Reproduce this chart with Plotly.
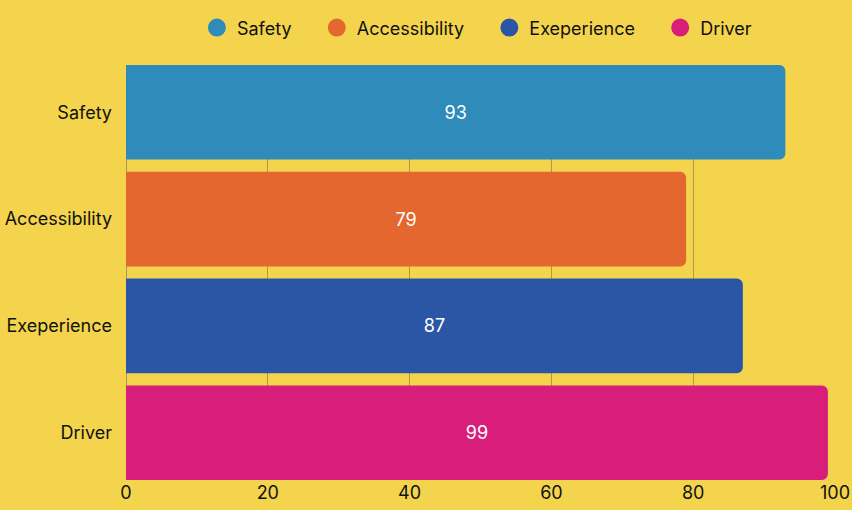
import plotly.graph_objects as go

categories = ["Safety", "Accessibility", "Exeperience", "Driver"]
values = [93, 79, 87, 99]
colors = ["#2E8BBA", "#E46730", "#2A56A5", "#D81E7A"]
x_ticks = [0, 20, 40, 60, 80, 100]

BG = "#F4D44C"
FONT = "Inter, Open Sans, sans-serif"
PAD = "\u00a0" * 4
GRID = "#A99B48"

fig = go.Figure()
fig.add_trace(go.Bar(
    y=categories, x=values, orientation="h",
    marker=dict(color=colors, line=dict(width=0)),
    text=[str(v) for v in values], textposition="inside",
    insidetextanchor="middle",
    textfont=dict(color="white", size=18, family=FONT),
    width=0.886, showlegend=False, hoverinfo="skip",
))
for c, col in zip(categories, colors):
    fig.add_trace(go.Scatter(
        x=[None], y=[None], mode="markers", name=c + PAD,
        marker=dict(symbol="circle", size=16, color=col, line=dict(color=col, width=2)),
    ))

fig.update_layout(
    width=852, height=510,
    paper_bgcolor=BG, plot_bgcolor=BG,
    margin=dict(l=126, r=17, t=65, b=30, autoexpand=False),
    barcornerradius=6,
    font=dict(family=FONT, size=18, color="#111111"),
    legend=dict(orientation="h", x=0.100, xanchor="left", y=1.045, yanchor="bottom",
                font=dict(size=18), bgcolor="rgba(0,0,0,0)", itemsizing="trace"),
    xaxis=dict(range=[0, 100], tickvals=x_ticks, showgrid=True, gridcolor=GRID,
               gridwidth=1, zeroline=True, zerolinecolor=GRID, zerolinewidth=1,
               showline=False, ticks="", tickfont=dict(size=18), automargin=False),
    yaxis=dict(categoryorder="array", categoryarray=categories,
               range=[3.443, -0.443], showgrid=False, zeroline=False, ticks="",
               ticklabelstandoff=13, tickfont=dict(size=18), automargin=False),
)

fig.write_html("out.html", config={"displayModeBar": False},
               post_script="document.body.style.margin='0';document.body.style.overflow='hidden';")
